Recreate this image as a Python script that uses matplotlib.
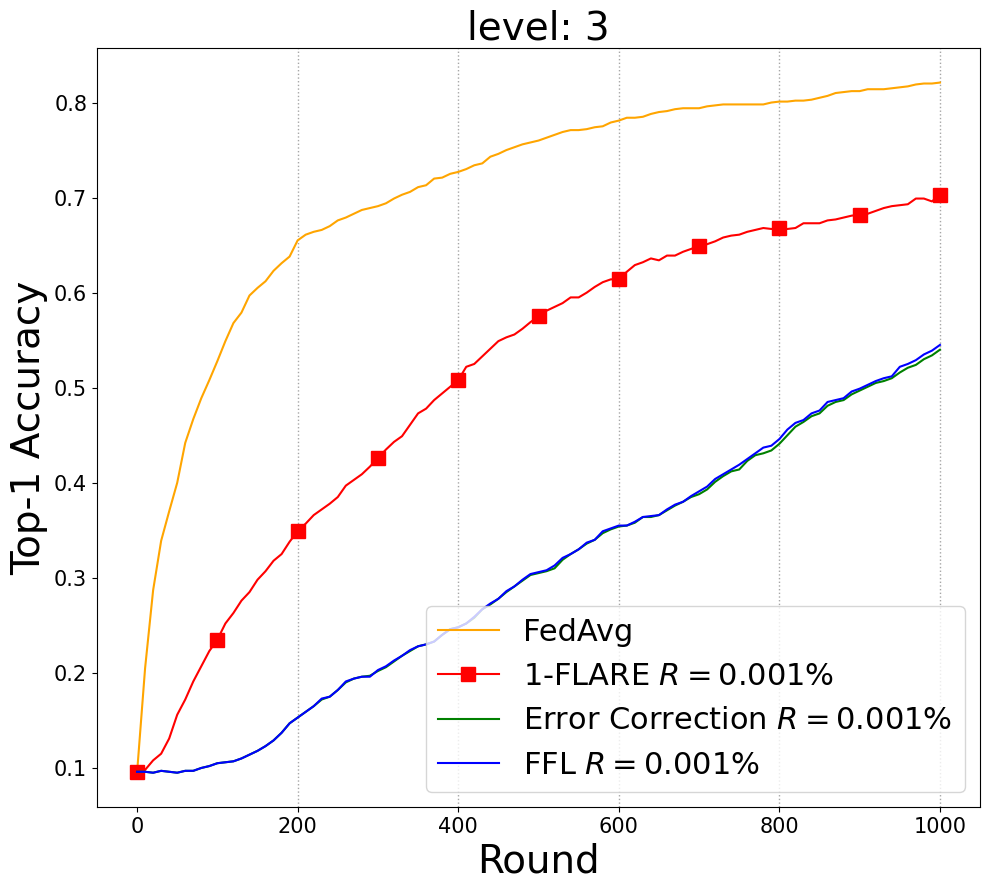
import matplotlib
matplotlib.use("Agg")
import matplotlib.pyplot as plt
import numpy as np

# rounds, sampled every 10
rounds = np.arange(0, 1001, 10)
# vertical reference lines
vlines = [200, 400, 600, 800, 1000]

fedavg = [
    0.095, 0.205, 0.287, 0.339, 0.370, 0.400, 0.442, 0.467, 0.489, 0.508,
    0.528, 0.549, 0.568, 0.579, 0.597, 0.605, 0.612, 0.623, 0.631, 0.638,
    0.655, 0.661, 0.664, 0.666, 0.670, 0.676, 0.679, 0.683, 0.687, 0.689,
    0.691, 0.694, 0.699, 0.703, 0.706, 0.711, 0.713, 0.720, 0.721, 0.725,
    0.727, 0.730, 0.734, 0.736, 0.743, 0.746, 0.750, 0.753, 0.756, 0.758,
    0.760, 0.763, 0.766, 0.769, 0.771, 0.771, 0.772, 0.774, 0.775, 0.779,
    0.781, 0.784, 0.784, 0.785, 0.788, 0.790, 0.791, 0.793, 0.794, 0.794,
    0.794, 0.796, 0.797, 0.798, 0.798, 0.798, 0.798, 0.798, 0.798, 0.800,
    0.801, 0.801, 0.802, 0.802, 0.803, 0.805, 0.807, 0.810, 0.811, 0.812,
    0.812, 0.814, 0.814, 0.814, 0.815, 0.816, 0.817, 0.819, 0.820, 0.820,
    0.821,
]

flare = [
    0.096, 0.098, 0.108, 0.115, 0.131, 0.156, 0.172, 0.191, 0.207, 0.223,
    0.235, 0.252, 0.263, 0.276, 0.285, 0.298, 0.307, 0.318, 0.325, 0.338,
    0.349, 0.357, 0.366, 0.372, 0.378, 0.385, 0.397, 0.403, 0.409, 0.417,
    0.426, 0.435, 0.443, 0.449, 0.461, 0.473, 0.478, 0.487, 0.494, 0.501,
    0.508, 0.522, 0.525, 0.533, 0.541, 0.549, 0.553, 0.556, 0.562, 0.569,
    0.575, 0.581, 0.585, 0.589, 0.595, 0.595, 0.600, 0.606, 0.611, 0.614,
    0.614, 0.622, 0.629, 0.632, 0.636, 0.634, 0.639, 0.639, 0.643, 0.646,
    0.649, 0.651, 0.654, 0.658, 0.660, 0.661, 0.664, 0.666, 0.668, 0.667,
    0.668, 0.667, 0.668, 0.673, 0.673, 0.673, 0.676, 0.677, 0.679, 0.681,
    0.682, 0.683, 0.686, 0.689, 0.691, 0.692, 0.693, 0.699, 0.699, 0.696,
    0.703,
]

error_corr = [
    0.096, 0.096, 0.095, 0.097, 0.096, 0.095, 0.097, 0.097, 0.100, 0.102,
    0.105, 0.106, 0.107, 0.110, 0.114, 0.118, 0.123, 0.129, 0.137, 0.147,
    0.153, 0.159, 0.165, 0.172, 0.175, 0.182, 0.190, 0.194, 0.196, 0.197,
    0.202, 0.206, 0.212, 0.218, 0.223, 0.228, 0.230, 0.233, 0.240, 0.246,
    0.248, 0.252, 0.258, 0.267, 0.272, 0.278, 0.285, 0.291, 0.297, 0.303,
    0.305, 0.307, 0.310, 0.319, 0.325, 0.330, 0.336, 0.340, 0.347, 0.351,
    0.354, 0.355, 0.358, 0.364, 0.364, 0.366, 0.371, 0.376, 0.380, 0.385,
    0.388, 0.393, 0.401, 0.407, 0.412, 0.414, 0.423, 0.429, 0.431, 0.434,
    0.441, 0.450, 0.459, 0.464, 0.470, 0.473, 0.481, 0.485, 0.487, 0.493,
    0.497, 0.501, 0.505, 0.507, 0.510, 0.516, 0.521, 0.524, 0.530, 0.534,
    0.540,
]

ffl = [
    0.096, 0.096, 0.095, 0.097, 0.096, 0.095, 0.097, 0.097, 0.100, 0.102,
    0.105, 0.106, 0.107, 0.110, 0.114, 0.118, 0.123, 0.129, 0.137, 0.147,
    0.153, 0.159, 0.165, 0.173, 0.175, 0.182, 0.191, 0.194, 0.196, 0.196,
    0.203, 0.207, 0.213, 0.218, 0.224, 0.228, 0.230, 0.233, 0.240, 0.246,
    0.248, 0.252, 0.259, 0.267, 0.273, 0.278, 0.286, 0.291, 0.298, 0.304,
    0.306, 0.308, 0.313, 0.321, 0.325, 0.330, 0.337, 0.340, 0.349, 0.352,
    0.355, 0.355, 0.359, 0.364, 0.365, 0.366, 0.372, 0.377, 0.380, 0.386,
    0.391, 0.396, 0.404, 0.409, 0.414, 0.419, 0.425, 0.431, 0.437, 0.439,
    0.446, 0.456, 0.463, 0.466, 0.473, 0.476, 0.485, 0.487, 0.489, 0.496,
    0.499, 0.503, 0.507, 0.510, 0.512, 0.522, 0.525, 0.529, 0.535, 0.539,
    0.545,
]

labels = ['FedAvg', r'1-FLARE $R=0.001\%$',
          r'Error Correction $R=0.001\%$', r'FFL $R=0.001\%$']

fig, ax = plt.subplots(figsize=(9.89, 8.9), dpi=100)
fig.subplots_adjust(left=0.098, right=0.991, top=0.946, bottom=0.093)

for xv in vlines:
    ax.axvline(xv, color='gray', linestyle=':', linewidth=1, alpha=0.7)

ax.plot(rounds, fedavg, color='orange', label=labels[0])
ax.plot(rounds, flare, color='red', marker='s', markersize=10,
        markevery=10, label=labels[1])
ax.plot(rounds, error_corr, color='green', label=labels[2])
ax.plot(rounds, ffl, color='blue', label=labels[3])

ax.set_title('level: 3', fontsize=28)
ax.set_xlabel('Round', fontsize=28)
ax.set_ylabel('Top-1 Accuracy', fontsize=28)
ax.tick_params(labelsize=15)
ax.legend(loc='lower right', fontsize=22)

plt.savefig('out.png', dpi=100)
